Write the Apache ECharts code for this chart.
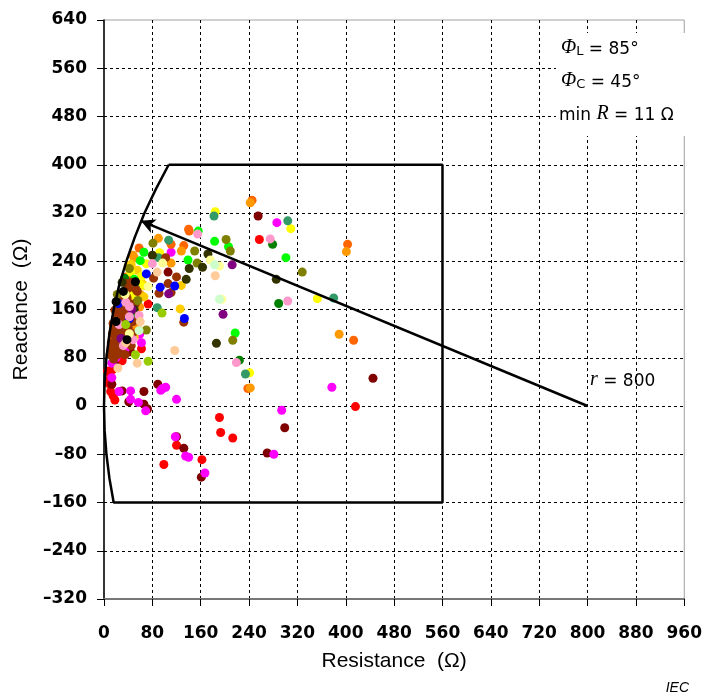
<!DOCTYPE html>
<html><head><meta charset="utf-8">
<script src="https://cdn.jsdelivr.net/npm/echarts@6/dist/echarts.min.js"></script>
<style>html,body{margin:0;padding:0;background:#fff}#c{width:705px;height:695px}</style>
</head><body><div id="c"></div>
<script>
// ---- axis ticks ----
const xTicks = [0,80,160,240,320,400,480,560,640,720,800,880,960];
const yTicks = [-320,-240,-160,-80,0,80,160,240,320,400,480,560,640];

// ---- test region boundary (R, X) and the r = 800 radius arrow ----
const boundary = [[107,400],[560,400],[560,-160],[16,-160],[9,-120],[4,-80],[1,-40],[0,0],[1,40],[4,80],[9,120],[16,160],[25,200],[37,240],[51,280],[67,320],[86,360],[107,400]];
const arrowFrom = [800,0];
const arrowTo = [61,307];

// ---- measured impedance points, grouped by marker colour ----
const red = [[416,-1],[191,-19],[193,-44],[213,-53],[120,-65],[99,-97],[162,-89],[257,276],[8,37],[11,24],[15,17],[18,10],[73,169],[10,45],[6,58],[14,60],[7,57],[30,75],[62,95]];
const maroon = [[255,315],[445,46],[299,-36],[270,-78],[13,36],[30,25],[66,24],[41,7],[66,3],[72,-5],[89,36],[120,-51],[132,-70],[161,-118],[106,222],[18,70],[44,90]];
const magenta = [[286,304],[377,31],[294,-7],[281,-80],[13,71],[13,47],[25,24],[44,25],[44,11],[57,6],[69,-8],[94,26],[97,29],[102,31],[120,11],[118,-51],[135,-83],[140,-85],[167,-111],[111,255],[52,121],[59,119],[42,118],[20,80],[35,95],[62,105]];
const orangeRed = [[245,341],[140,293],[141,290],[403,268],[413,109],[238,29],[111,268],[132,266],[37,214],[22,105],[45,125],[30,170],[15,115],[58,262]];
const orange = [[242,337],[401,256],[389,119],[242,30],[90,278],[128,257],[50,246],[111,237],[59,164],[34,126],[28,120],[40,150],[55,130],[18,92],[60,185],[48,250],[40,232]];
const gold = [[126,161],[61,206],[67,200],[128,200],[66,181],[31,154],[20,110],[35,140],[45,175],[25,90],[50,115],[38,200],[16,105],[45,235],[55,225]];
const yellow = [[309,294],[184,322],[353,178],[241,55],[92,254],[62,215],[26,128],[48,185],[62,200],[44,222],[70,236]];
const lime = [[301,246],[156,290],[183,273],[206,264],[217,121],[66,255],[139,242],[60,241],[30,135],[50,210],[15,95]];
const green = [[279,268],[289,170],[224,76],[44,150],[34,212]];
const seaGreen = [[304,307],[380,179],[234,53],[182,315],[107,275],[90,246],[88,163],[48,142],[38,118],[52,195],[22,150]];
const olive = [[328,222],[213,109],[202,276],[209,257],[81,270],[150,257],[154,237],[42,228],[70,126],[22,185],[56,175]];
const darkOlive = [[285,210],[186,104],[172,252],[80,250],[163,230],[141,228],[136,210],[30,205],[50,160]];
const brown = [[132,139],[102,246],[120,214],[82,212],[106,203],[37,203],[91,187],[111,188],[53,193],[30,187],[26,167],[18,159],[15,137],[23,131],[14,120],[18,128],[22,140],[25,110],[20,100],[12,95],[28,95],[30,150],[35,160],[24,160],[28,175],[38,180],[40,195],[45,205],[33,115],[40,130],[45,100],[10,85],[16,78],[22,85],[35,85],[48,140],[52,170],[20,115],[30,125],[55,190],[26,148],[12,105],[17,88],[26,118],[32,138],[14,100],[38,150],[42,170],[27,100],[34,105],[19,145],[24,180],[40,110],[47,120],[30,160],[16,132],[22,95],[36,120]];
const purple = [[212,234],[197,152],[107,186],[28,112],[46,160]];
const blue = [[133,145],[70,219],[117,199],[93,197],[42,145],[24,170]];
const pink = [[275,277],[304,174],[219,72],[155,285],[80,236],[42,165],[42,148],[32,100],[48,110],[25,135],[36,172],[58,150]];
const peach = [[184,216],[117,92],[55,71],[23,63],[88,222],[36,105],[60,140]];
const lightYellow = [[176,242],[191,232],[195,177],[97,237],[73,198],[42,120],[35,185]];
const lightGreen = [[183,234],[191,177],[58,125]];
const yellowGreen = [[73,74],[96,154],[52,85],[36,135]];
const black = [[52,206],[20,173],[20,140],[38,110],[32,190]];

const groups = [
  ['#FF0000', red], ['#800000', maroon], ['#FF00FF', magenta],
  ['#FF6600', orangeRed], ['#FF9900', orange], ['#FFCC00', gold], ['#FFFF00', yellow],
  ['#00FF00', lime], ['#008000', green], ['#339966', seaGreen], ['#993300', brown], ['#808000', olive],
  ['#333300', darkOlive], ['#800080', purple], ['#0000FF', blue], ['#FF99CC', pink],
  ['#FFCC99', peach], ['#FFFF99', lightYellow], ['#CCFFCC', lightGreen], ['#99CC00', yellowGreen],
  ['#000000', black]
];

const tickFont = {fontFamily:'DejaVu Sans', fontWeight:'bold', fontSize:17, color:'#000'};
const fmt = v => v < 0 ? '\u2013' + (-v) : String(v);

const series = groups.map(([c, d]) => ({
  type:'scatter', data:d, symbol:'circle', symbolSize:9,
  itemStyle:{color:c, opacity:1}, z:2, silent:true
}));
series.push({
  type:'line', data:boundary, showSymbol:false, symbol:'none', smooth:false,
  lineStyle:{color:'#000', width:2.5}, z:5, silent:true,
  markLine:{
    silent:true, symbol:['none','arrow'], symbolSize:[11,14],
    lineStyle:{color:'#000', width:2.5, type:'solid'}, label:{show:false},
    data:[[{coord:arrowFrom},{coord:arrowTo}]]
  }
});

const chart = echarts.init(document.getElementById('c'), null, {renderer:'canvas'});
chart.setOption({
  animation:false,
  backgroundColor:'#fff',
  grid:{left:104, top:20, width:582, height:579, show:true, borderColor:'#a0a0a0', borderWidth:1, backgroundColor:'transparent'},
  xAxis:{
    type:'value', min:xTicks[0], max:xTicks[xTicks.length-1], interval:xTicks[1]-xTicks[0],
    name:'Resistance  (\u03A9)', nameLocation:'middle', nameGap:52,
    nameTextStyle:{fontFamily:'Liberation Sans', fontSize:21, color:'#000'},
    axisLine:{show:true, onZero:false, lineStyle:{color:'#777', width:2}},
    axisTick:{show:true, length:7, lineStyle:{color:'#000', width:1}},
    axisLabel:Object.assign({margin:26, formatter:fmt}, tickFont),
    splitLine:{show:true, showMinLine:false, showMaxLine:false, lineStyle:{color:'#000', width:1, type:[3,3]}}
  },
  yAxis:{
    type:'value', min:yTicks[0], max:yTicks[yTicks.length-1], interval:yTicks[1]-yTicks[0],
    name:'Reactance  (\u03A9)', nameLocation:'middle', nameGap:72, nameRotate:90,
    nameTextStyle:{fontFamily:'Liberation Sans', fontSize:21, color:'#000'},
    axisLine:{show:true, onZero:false, lineStyle:{color:'#000', width:1.5}},
    axisTick:{show:true, length:7, lineStyle:{color:'#000', width:1}},
    axisLabel:Object.assign({margin:17, formatter:fmt}, tickFont),
    splitLine:{show:true, showMinLine:false, showMaxLine:false, lineStyle:{color:'#000', width:1, type:[3,3]}}
  },
  series:series,
  graphic:[
    {type:'rect', shape:{x:556, y:33, width:149, height:103}, style:{fill:'#fff'}, z:100, silent:true},
    {type:'text', x:561, y:47, z:101, silent:true, style:{
      text:'{phi|\u03A6}{sub|L}{n| = 85\u00B0}', verticalAlign:'middle', fill:'#000',
      rich:{
        phi:{fontFamily:'Liberation Serif', fontStyle:'italic', fontSize:20, lineHeight:22, verticalAlign:'bottom'},
        sub:{fontFamily:'DejaVu Sans', fontSize:13, lineHeight:13, verticalAlign:'bottom'},
        n:{fontFamily:'DejaVu Sans', fontSize:17, lineHeight:22, verticalAlign:'bottom'}
      }}},
    {type:'text', x:561, y:80, z:101, silent:true, style:{
      text:'{phi|\u03A6}{sub|C}{n| = 45\u00B0}', verticalAlign:'middle', fill:'#000',
      rich:{
        phi:{fontFamily:'Liberation Serif', fontStyle:'italic', fontSize:20, lineHeight:22, verticalAlign:'bottom'},
        sub:{fontFamily:'DejaVu Sans', fontSize:13, lineHeight:13, verticalAlign:'bottom'},
        n:{fontFamily:'DejaVu Sans', fontSize:17, lineHeight:22, verticalAlign:'bottom'}
      }}},
    {type:'text', x:559, y:113, z:101, silent:true, style:{
      text:'{n|min }{it|R}{n| = 11 \u03A9}', verticalAlign:'middle', fill:'#000',
      rich:{
        it:{fontFamily:'Liberation Serif', fontStyle:'italic', fontSize:20, lineHeight:22, verticalAlign:'bottom'},
        n:{fontFamily:'DejaVu Sans', fontSize:17, lineHeight:22, verticalAlign:'bottom'}
      }}},
    {type:'text', x:590, y:379, z:101, silent:true, style:{
      text:'{it|r}{n| = 800}', verticalAlign:'middle', fill:'#000',
      rich:{
        it:{fontFamily:'Liberation Serif', fontStyle:'italic', fontSize:20, lineHeight:22, verticalAlign:'bottom'},
        n:{fontFamily:'DejaVu Sans', fontSize:17, lineHeight:22, verticalAlign:'bottom'}
      }}},
    {type:'text', x:689, y:688, z:101, silent:true, style:{
      text:'IEC', align:'right', verticalAlign:'middle', fill:'#000',
      font:'italic 14px "Liberation Sans"'
    }}
  ]
});
</script>
</body></html>
